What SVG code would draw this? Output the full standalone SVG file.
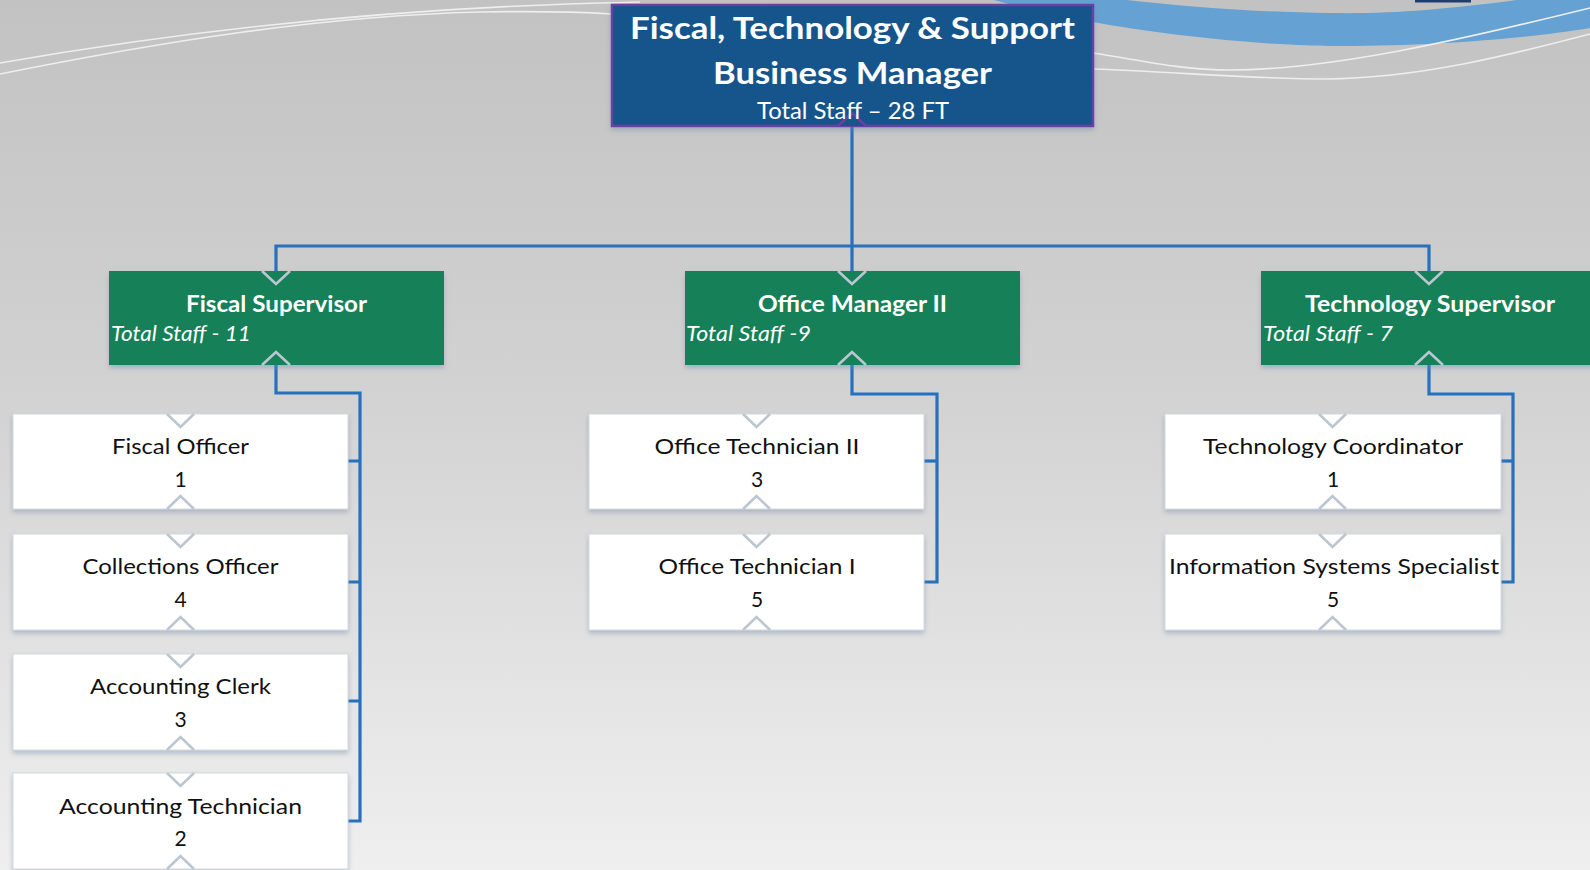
<svg xmlns="http://www.w3.org/2000/svg" width="1590" height="870" viewBox="0 0 1590 870">
<defs>
<linearGradient id="bg" x1="0" y1="0" x2="0" y2="1">
<stop offset="0" stop-color="#c2c2c2"/>
<stop offset="0.45" stop-color="#d2d2d2"/>
<stop offset="1" stop-color="#efefef"/>
</linearGradient>
<filter id="sh" x="-10%" y="-10%" width="120%" height="130%">
<feDropShadow dx="0" dy="3" stdDeviation="2.5" flood-color="#6f86a8" flood-opacity="0.45"/>
</filter>
<style>
.conn{fill:none;stroke:#2770bd;stroke-width:3.2}
.deco{fill:none;stroke:#eeeeee;stroke-width:1.6}
.top{fill:#17558b;stroke:#6b3fa3;stroke-width:2.5}
.green{fill:#128059}
.white{fill:#ffffff;stroke:#d4d8dc;stroke-width:1}
.notch{fill:none;stroke:#bcc6d1;stroke-width:2.6}
.t1{font-family:Lato,"Open Sans","Liberation Sans",sans-serif;font-weight:bold;fill:#ffffff;text-anchor:middle}
.ts{font-family:Lato,"Open Sans","Liberation Sans",sans-serif;fill:#ffffff;text-anchor:middle}
.gt{font-family:Lato,"Open Sans","Liberation Sans",sans-serif;font-weight:bold;font-size:22px;fill:#ffffff;text-anchor:middle}
.gi{font-family:Lato,"Open Sans","Liberation Sans",sans-serif;font-style:italic;font-size:21px;fill:#ffffff}
.wt{font-family:Lato,"Open Sans","Liberation Sans",sans-serif;font-size:21px;fill:#111111;text-anchor:middle}
</style>
</defs>
<rect x="0" y="0" width="1590" height="870" fill="url(#bg)"/>
<!-- decorative background -->
<path d="M994,0 C1100,30 1250,46 1340,46 C1440,46 1530,38 1590,28 L1590,0 L1517,0 C1440,10 1390,14 1330,13 C1250,12 1180,6 1127,0 Z" fill="#65a1d2"/>
<rect x="1415" y="0" width="56" height="2.5" fill="#1d3e6e"/>
<path class="deco" d="M0,63 C200,28 420,6 640,2"/>
<path class="deco" d="M0,74 C160,42 320,16 480,12 C540,11 580,12 612,14"/>
<path class="deco" d="M1093,53 C1140,60 1180,70 1230,70 C1330,70 1460,40 1590,8"/>
<path class="deco" d="M1093,69 C1180,72 1250,79 1326,79 C1420,78 1510,55 1590,34"/>
<g id="connectors">
<path class="conn" d="M852,120 V271"/>
<path class="conn" d="M276,271 V246 H1429 V271"/>
<path class="conn" d="M276,365 V393 H360 V821 H348"/>
<path class="conn" d="M348,461 H360 M348,582 H360 M348,701 H360"/>
<path class="conn" d="M852,365 V394 H937 V582 H924"/>
<path class="conn" d="M924,461 H937"/>
<path class="conn" d="M1429,365 V394 H1513 V582 H1501"/>
<path class="conn" d="M1501,461 H1513"/>
</g>
<g id="business-manager">
<rect class="top" x="612" y="5" width="481" height="121" filter="url(#sh)"/>
<path d="M838,126 L852,113 L866,126" fill="#17558b" stroke="#6b3fa3" stroke-width="2.5"/>
<text class="t1" x="852.5" y="39" font-size="31" textLength="445" lengthAdjust="spacingAndGlyphs">Fiscal, Technology &amp; Support</text>
<text class="t1" x="852.5" y="84" font-size="31" textLength="279" lengthAdjust="spacingAndGlyphs">Business Manager</text>
<text class="ts" x="853" y="119" font-size="23" textLength="192" lengthAdjust="spacingAndGlyphs">Total Staff – 28 FT</text>
</g>
<g id="fiscal-supervisor">
<rect class="green" x="109" y="271" width="335" height="94" filter="url(#sh)"/>
<path class="notch" d="M262,271 L276,284 L290,271"/>
<path class="notch" d="M262,365 L276,352 L290,365"/>
<text class="gt" x="276.5" y="312" textLength="181" lengthAdjust="spacingAndGlyphs">Fiscal Supervisor</text>
<text class="gi" x="111" y="341" textLength="140" lengthAdjust="spacingAndGlyphs">Total Staff - 11</text>
</g>
<g id="office-manager">
<rect class="green" x="685" y="271" width="335" height="94" filter="url(#sh)"/>
<path class="notch" d="M838,271 L852,284 L866,271"/>
<path class="notch" d="M838,365 L852,352 L866,365"/>
<text class="gt" x="852.5" y="312" textLength="189" lengthAdjust="spacingAndGlyphs">Office Manager II</text>
<text class="gi" x="686" y="341" textLength="125" lengthAdjust="spacingAndGlyphs">Total Staff -9</text>
</g>
<g id="technology-supervisor">
<rect class="green" x="1261" y="271" width="335" height="94" filter="url(#sh)"/>
<path class="notch" d="M1415,271 L1429,284 L1443,271"/>
<path class="notch" d="M1415,365 L1429,352 L1443,365"/>
<text class="gt" x="1430" y="312" textLength="250" lengthAdjust="spacingAndGlyphs">Technology Supervisor</text>
<text class="gi" x="1263" y="341" textLength="130" lengthAdjust="spacingAndGlyphs">Total Staff - 7</text>
</g>
<g id="fiscal-officer">
<rect class="white" x="13" y="414" width="335" height="95" filter="url(#sh)"/>
<path class="notch" d="M167,414 L180.5,427 L194,414"/>
<path class="notch" d="M167,509 L180.5,496 L194,509"/>
<text class="wt" x="180.5" y="454" textLength="137" lengthAdjust="spacingAndGlyphs">Fiscal Officer</text>
<text class="wt" x="180.5" y="487">1</text>
</g>
<g id="collections-officer">
<rect class="white" x="13" y="534" width="335" height="96" filter="url(#sh)"/>
<path class="notch" d="M167,534 L180.5,547 L194,534"/>
<path class="notch" d="M167,630 L180.5,617 L194,630"/>
<text class="wt" x="180.5" y="574" textLength="196" lengthAdjust="spacingAndGlyphs">Collections Officer</text>
<text class="wt" x="180.5" y="607">4</text>
</g>
<g id="accounting-clerk">
<rect class="white" x="13" y="654" width="335" height="96" filter="url(#sh)"/>
<path class="notch" d="M167,654 L180.5,667 L194,654"/>
<path class="notch" d="M167,750 L180.5,737 L194,750"/>
<text class="wt" x="180.5" y="694" textLength="181" lengthAdjust="spacingAndGlyphs">Accounting Clerk</text>
<text class="wt" x="180.5" y="727">3</text>
</g>
<g id="accounting-technician">
<rect class="white" x="13" y="773" width="335" height="96" filter="url(#sh)"/>
<path class="notch" d="M167,773 L180.5,786 L194,773"/>
<path class="notch" d="M167,869 L180.5,856 L194,869"/>
<text class="wt" x="180.5" y="814" textLength="243" lengthAdjust="spacingAndGlyphs">Accounting Technician</text>
<text class="wt" x="180.5" y="846">2</text>
</g>
<g id="office-technician-ii">
<rect class="white" x="589" y="414" width="335" height="95" filter="url(#sh)"/>
<path class="notch" d="M743,414 L756.5,427 L770,414"/>
<path class="notch" d="M743,509 L756.5,496 L770,509"/>
<text class="wt" x="757" y="454" textLength="205" lengthAdjust="spacingAndGlyphs">Office Technician II</text>
<text class="wt" x="757" y="487">3</text>
</g>
<g id="office-technician-i">
<rect class="white" x="589" y="534" width="335" height="96" filter="url(#sh)"/>
<path class="notch" d="M743,534 L756.5,547 L770,534"/>
<path class="notch" d="M743,630 L756.5,617 L770,630"/>
<text class="wt" x="757" y="574" textLength="197" lengthAdjust="spacingAndGlyphs">Office Technician I</text>
<text class="wt" x="757" y="607">5</text>
</g>
<g id="technology-coordinator">
<rect class="white" x="1165" y="414" width="336" height="95" filter="url(#sh)"/>
<path class="notch" d="M1319,414 L1332.5,427 L1346,414"/>
<path class="notch" d="M1319,509 L1332.5,496 L1346,509"/>
<text class="wt" x="1333" y="454" textLength="260" lengthAdjust="spacingAndGlyphs">Technology Coordinator</text>
<text class="wt" x="1333" y="487">1</text>
</g>
<g id="information-systems-specialist">
<rect class="white" x="1165" y="534" width="336" height="96" filter="url(#sh)"/>
<path class="notch" d="M1319,534 L1332.5,547 L1346,534"/>
<path class="notch" d="M1319,630 L1332.5,617 L1346,630"/>
<text class="wt" x="1334" y="574" textLength="330" lengthAdjust="spacingAndGlyphs">Information Systems Specialist</text>
<text class="wt" x="1333" y="607">5</text>
</g>
</svg>
